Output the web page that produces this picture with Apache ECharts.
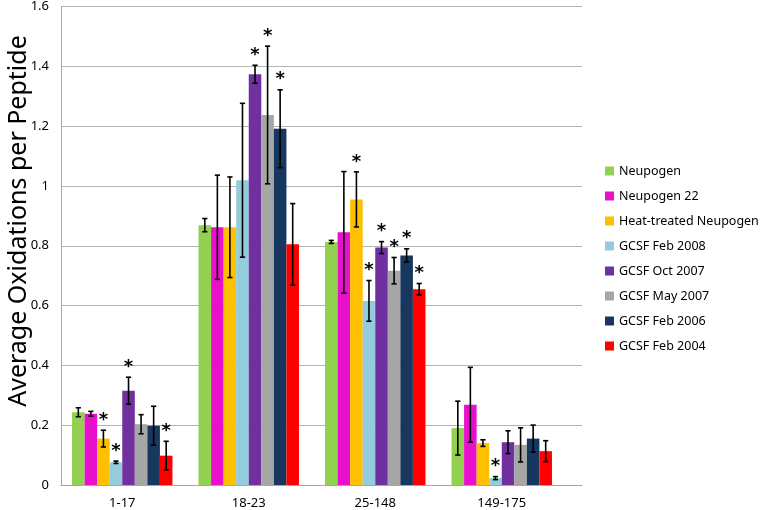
<!DOCTYPE html>
<html>
<head>
<meta charset="utf-8">
<script src="https://cdn.jsdelivr.net/npm/echarts@6/dist/echarts.min.js"></script>
<style>html,body{margin:0;padding:0;background:#fff}#c{width:761px;height:510px}</style>
</head>
<body>
<div id="c"></div>
<script>
const categories = ['1-17', '18-23', '25-148', '149-175'];
const seriesNames = ['Neupogen', 'Neupogen 22', 'Heat-treated Neupogen', 'GCSF Feb 2008', 'GCSF Oct 2007', 'GCSF May 2007', 'GCSF Feb 2006', 'GCSF Feb 2004'];
const colors = ['#92d050', '#e810cc', '#ffc000', '#93cddd', '#7030a0', '#a6a6a6', '#17375e', '#ff0000'];
const yTicks = [0, 0.2, 0.4, 0.6, 0.8, 1, 1.2, 1.4, 1.6];

const neupogen     = [0.243, 0.868, 0.812, 0.190];
const neupogen22   = [0.238, 0.861, 0.844, 0.268];
const heatTreated  = [0.155, 0.861, 0.954, 0.140];
const gcsfFeb2008  = [0.076, 1.018, 0.615, 0.023];
const gcsfOct2007  = [0.315, 1.372, 0.793, 0.143];
const gcsfMay2007  = [0.203, 1.236, 0.716, 0.134];
const gcsfFeb2006  = [0.198, 1.190, 0.767, 0.155];
const gcsfFeb2004  = [0.098, 0.804, 0.654, 0.113];

const errNeupogen    = [0.015, 0.022, 0.005, 0.090];
const errNeupogen22  = [0.008, 0.174, 0.203, 0.125];
const errHeatTreated = [0.028, 0.168, 0.092, 0.011];
const errFeb2008     = [0.004, 0.257, 0.068, 0.005];
const errOct2007     = [0.045, 0.030, 0.020, 0.038];
const errMay2007     = [0.032, 0.230, 0.044, 0.057];
const errFeb2006     = [0.065, 0.130, 0.022, 0.045];
const errFeb2004     = [0.048, 0.136, 0.019, 0.035];

const starNeupogen    = [0, 0, 0, 0];
const starNeupogen22  = [0, 0, 0, 0];
const starHeatTreated = [1, 0, 1, 0];
const starFeb2008     = [1, 0, 1, 1];
const starOct2007     = [1, 1, 1, 0];
const starMay2007     = [0, 1, 1, 0];
const starFeb2006     = [0, 1, 1, 0];
const starFeb2004     = [1, 0, 1, 0];

const values = [neupogen, neupogen22, heatTreated, gcsfFeb2008, gcsfOct2007, gcsfMay2007, gcsfFeb2006, gcsfFeb2004];
const errors = [errNeupogen, errNeupogen22, errHeatTreated, errFeb2008, errOct2007, errMay2007, errFeb2006, errFeb2004];
const stars = [starNeupogen, starNeupogen22, starHeatTreated, starFeb2008, starOct2007, starMay2007, starFeb2006, starFeb2004];

const FONT = 'Noto Sans';
const CAT_GAP = 0.206;
const N = seriesNames.length;

const series = [];
seriesNames.forEach((name, i) => {
  series.push({
    name: name, type: 'bar', xAxisIndex: 0, yAxisIndex: 0,
    data: values[i], barGap: '0%', barCategoryGap: (CAT_GAP * 100) + '%',
    itemStyle: { color: colors[i] }, animation: false
  });
});
seriesNames.forEach((name, i) => {
  series.push({
    name: 'err' + i, type: 'custom', xAxisIndex: 0, yAxisIndex: 0, animation: false, z: 5,
    data: categories.map((c, k) => [k, values[i][k], errors[i][k], stars[i][k]]),
    renderItem: function (params, api) {
      const k = api.value(0), v = api.value(1), e = api.value(2), s = api.value(3);
      const band = api.size([1, 0])[0];
      const bw = band * (1 - CAT_GAP) / N;
      const base = api.coord([k, v]);
      const x = base[0] + (i - (N - 1) / 2) * bw;
      const yt = api.coord([k, v + e])[1];
      const yb = api.coord([k, v - e])[1];
      const st = { stroke: '#000', lineWidth: 1.6 };
      const cap = 2.6;
      const children = [
        { type: 'line', shape: { x1: x, y1: yt, x2: x, y2: yb }, style: st },
        { type: 'line', shape: { x1: x - cap, y1: yt, x2: x + cap, y2: yt }, style: st },
        { type: 'line', shape: { x1: x - cap, y1: yb, x2: x + cap, y2: yb }, style: st }
      ];
      if (s) {
        children.push({ type: 'text', style: { text: '*', x: x, y: yt - 1, align: 'center', verticalAlign: 'bottom', fontSize: 18, fontWeight: 'bold', fontFamily: 'DejaVu Sans', fill: '#000' } });
      }
      return { type: 'group', children: children };
    }
  });
});

const chart = echarts.init(document.getElementById('c'), null, { renderer: 'canvas' });
chart.setOption({
  animation: false,
  backgroundColor: '#fff',
  grid: [
    { left: 59, width: 506, top: 6, bottom: 25, containLabel: false },
    { left: 61, right: 179, top: 6, bottom: 25, containLabel: false }
  ],
  legend: {
    data: seriesNames, orient: 'vertical', left: 600, top: 159,
    itemWidth: 9, itemHeight: 9, itemGap: 11, icon: 'rect',
    textStyle: { fontFamily: FONT, fontSize: 12.5, color: '#000', lineHeight: 14 }
  },
  xAxis: [
    { type: 'category', gridIndex: 0, data: categories,
      axisLine: { show: false }, axisTick: { show: false },
      axisLabel: { fontFamily: FONT, fontSize: 13, color: '#000', margin: 12 } },
    { type: 'value', gridIndex: 1, min: 0, max: 1,
      axisLine: { show: true, lineStyle: { color: '#a6a6a6', width: 1 } },
      axisTick: { show: false }, axisLabel: { show: false }, splitLine: { show: false } }
  ],
  yAxis: [
    { type: 'value', gridIndex: 0, min: 0, max: 1.6, interval: 0.2,
      axisLine: { show: false }, axisTick: { show: false }, axisLabel: { show: false }, splitLine: { show: false } },
    { type: 'value', gridIndex: 1, min: 0, max: 1.6, interval: 0.2,
      axisLine: { show: true, lineStyle: { color: '#a6a6a6', width: 1 } },
      axisTick: { show: false },
      axisLabel: { fontFamily: FONT, fontSize: 13, color: '#000', margin: 12,
        formatter: v => String(Math.round(v * 10) / 10) },
      splitLine: { show: true, lineStyle: { color: '#b3b3b3', width: 1 } } }
  ],
  graphic: [{
    type: 'text', x: 19, y: 221, rotation: Math.PI / 2,
    style: { text: 'Average Oxidations per Peptide', fontFamily: FONT, fontSize: 25, fill: '#000', align: 'center', verticalAlign: 'middle' }
  }],
  series: series
});
</script>
</body>
</html>
